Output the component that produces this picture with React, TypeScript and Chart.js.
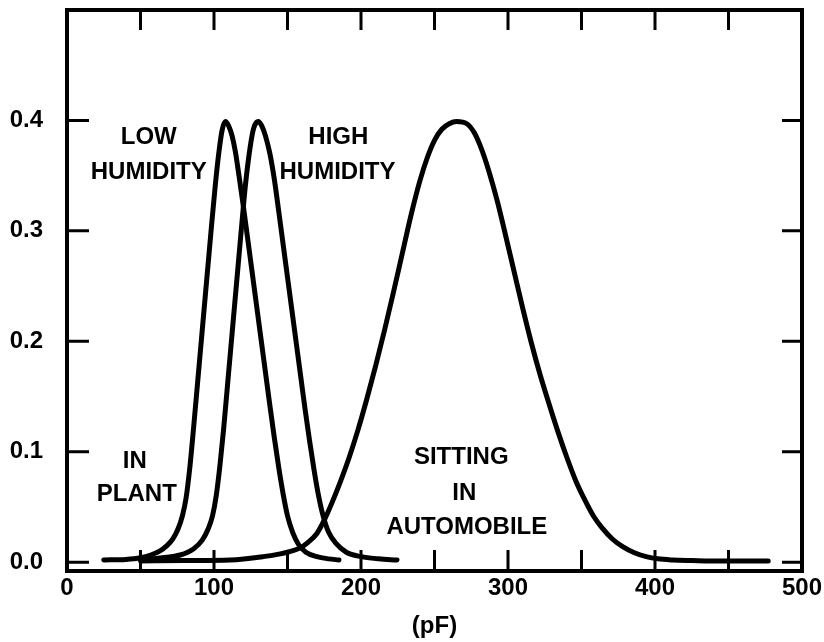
import { useEffect, useRef } from 'react';
import { Chart, registerables } from 'chart.js';

Chart.register(...registerables);

// ---- data ----
const inPlantX = [25, 40, 50, 57, 63, 68, 72, 75.5, 78.5, 81, 83.5, 86, 89, 92, 95, 98, 101, 103.5, 105.5, 107.7, 110, 112.3, 114.5, 117, 120, 123, 126, 129, 132, 135, 138, 141, 144, 147, 150, 153.5, 157.5, 162.5, 170, 178, 185];
const inPlantY = [0.002, 0.0025, 0.004, 0.0065, 0.01, 0.015, 0.021, 0.03, 0.042, 0.058, 0.085, 0.12, 0.165, 0.21, 0.255, 0.3, 0.343, 0.373, 0.391, 0.399, 0.395, 0.386, 0.372, 0.35, 0.322, 0.292, 0.262, 0.232, 0.202, 0.172, 0.142, 0.113, 0.086, 0.062, 0.042, 0.027, 0.016, 0.009, 0.005, 0.003, 0.002];

const highHumX = [50, 65, 77, 86, 92, 96, 99, 101.5, 104, 106.5, 109.5, 112.5, 115.5, 118.5, 121.5, 124.5, 127, 130.1, 132.5, 135, 138, 141, 144, 147, 150, 153, 156, 159, 162, 165, 168, 171, 174, 178, 183, 190, 200, 212, 224.5];
const highHumY = [0.002, 0.004, 0.0065, 0.012, 0.02, 0.03, 0.042, 0.06, 0.087, 0.12, 0.165, 0.21, 0.255, 0.3, 0.343, 0.375, 0.393, 0.399, 0.395, 0.386, 0.37, 0.347, 0.318, 0.288, 0.258, 0.228, 0.198, 0.168, 0.138, 0.11, 0.084, 0.061, 0.043, 0.027, 0.017, 0.009, 0.005, 0.003, 0.002];

const autoX = [50, 80, 111, 133.5, 145, 152, 158, 164, 170, 175, 180, 186, 192, 198, 204, 210, 216, 222, 228, 234, 240, 245, 250, 255, 260, 265, 272, 277, 282, 287, 292.5, 298, 304, 310, 316, 322, 328, 334, 340, 346, 352, 358, 364, 371, 378, 386, 394, 402, 412, 425, 445, 477];
const autoY = [0.001, 0.0015, 0.002, 0.005, 0.0075, 0.0098, 0.0125, 0.018, 0.026, 0.038, 0.053, 0.073, 0.095, 0.12, 0.148, 0.178, 0.21, 0.244, 0.279, 0.314, 0.345, 0.366, 0.382, 0.392, 0.397, 0.399, 0.397, 0.389, 0.374, 0.354, 0.328, 0.298, 0.264, 0.23, 0.198, 0.169, 0.143, 0.118, 0.095, 0.074, 0.057, 0.042, 0.031, 0.021, 0.014, 0.0085, 0.005, 0.003, 0.002, 0.0015, 0.001, 0.001];

const xTickLabels = [0, 100, 200, 300, 400, 500];
const xMinorTicks = [50, 100, 150, 200, 250, 300, 350, 400, 450];
const yTickLabels = [0, 0.1, 0.2, 0.3, 0.4];

const noteTexts = ['LOW', 'HUMIDITY', 'HIGH', 'HUMIDITY', 'IN', 'PLANT', 'SITTING', 'IN', 'AUTOMOBILE'];
const noteX = [55.6, 55.6, 184.6, 184, 46.1, 47.5, 268.2, 270.3, 272];
const noteY = [0.385, 0.353, 0.385, 0.353, 0.0917, 0.061, 0.0953, 0.0627, 0.0314];

const FONT = '"Liberation Sans", Arial, sans-serif';

const toPoints = (xs: number[], ys: number[]) => xs.map((x, i) => ({ x, y: ys[i] }));

const framePlugin = {
  id: 'frame',
  afterDatasetsDraw(chart: any) {
    const { ctx, chartArea: a, scales } = chart;
    const x = scales.x;
    const y = scales.y;
    ctx.save();
    ctx.strokeStyle = '#000';
    ctx.lineWidth = 4;
    ctx.strokeRect(a.left, a.top, a.right - a.left, a.bottom - a.top);
    ctx.lineWidth = 3;
    ctx.lineCap = 'butt';
    ctx.beginPath();
    for (const v of xMinorTicks) {
      const px = x.getPixelForValue(v);
      ctx.moveTo(px, a.top);
      ctx.lineTo(px, a.top + 20);
      ctx.moveTo(px, a.bottom);
      ctx.lineTo(px, a.bottom - 21);
    }
    for (const v of yTickLabels) {
      const py = y.getPixelForValue(v);
      ctx.moveTo(a.left, py);
      ctx.lineTo(a.left + 22, py);
      ctx.moveTo(a.right, py);
      ctx.lineTo(a.right - 20, py);
    }
    ctx.stroke();
    ctx.fillStyle = '#000';
    ctx.font = 'bold 24px ' + FONT;
    ctx.textAlign = 'center';
    ctx.textBaseline = 'middle';
    noteTexts.forEach((t, i) => {
      ctx.fillText(t, x.getPixelForValue(noteX[i]), y.getPixelForValue(noteY[i]));
    });
    ctx.restore();
  },
};

export default function App() {
  const ref = useRef<HTMLCanvasElement | null>(null);
  useEffect(() => {
    if (!ref.current) return;
    const line = (pts: any[]) => ({
      data: pts,
      borderColor: '#000',
      borderWidth: 5,
      pointRadius: 0,
      fill: false,
      cubicInterpolationMode: 'monotone' as const,
      borderCapStyle: 'round' as const,
      borderJoinStyle: 'round' as const,
    });
    const chart = new Chart(ref.current, {
      type: 'line',
      data: {
        datasets: [
          line(toPoints(inPlantX, inPlantY)),
          line(toPoints(highHumX, highHumY)),
          line(toPoints(autoX, autoY)),
        ],
      },
      options: {
        animation: false,
        responsive: false,
        layout: { padding: { left: 7, top: 10, right: 22, bottom: 1 } },
        plugins: { legend: { display: false }, tooltip: { enabled: false } },
        scales: {
          x: {
            type: 'linear',
            min: 0,
            max: 500,
            grid: { display: false, drawTicks: false },
            border: { display: false },
            afterBuildTicks: (s: any) => {
              s.ticks = xTickLabels.map((v) => ({ value: v }));
            },
            afterFit: (s: any) => {
              s.height = 70;
              s.paddingLeft = 0;
              s.paddingRight = 0;
            },
            ticks: {
              color: '#000',
              font: { family: FONT, size: 24, weight: 'bold' },
              padding: 3,
              maxRotation: 0,
              autoSkip: false,
              callback: (v: any) => String(v),
            },
            title: {
              display: true,
              text: '(pF)',
              color: '#000',
              font: { family: FONT, size: 24, weight: 'bold' },
              padding: { top: 0, bottom: 0 },
            },
          },
          y: {
            type: 'linear',
            min: -0.008,
            max: 0.5,
            grid: { display: false, drawTicks: false },
            border: { display: false },
            afterBuildTicks: (s: any) => {
              s.ticks = yTickLabels.map((v) => ({ value: v }));
            },
            afterFit: (s: any) => {
              s.width = 60;
              s.paddingTop = 0;
              s.paddingBottom = 0;
            },
            ticks: {
              color: '#000',
              font: { family: FONT, size: 24, weight: 'bold' },
              padding: 24,
              callback: (v: any) => Number(v).toFixed(1),
            },
          },
        },
      },
      plugins: [framePlugin],
    });
    return () => chart.destroy();
  }, []);
  return (
    <div style={{ position: 'absolute', left: 0, top: 0, width: 824, height: 642, background: '#fff' }}>
      <canvas ref={ref} width={824} height={642} />
    </div>
  );
}
